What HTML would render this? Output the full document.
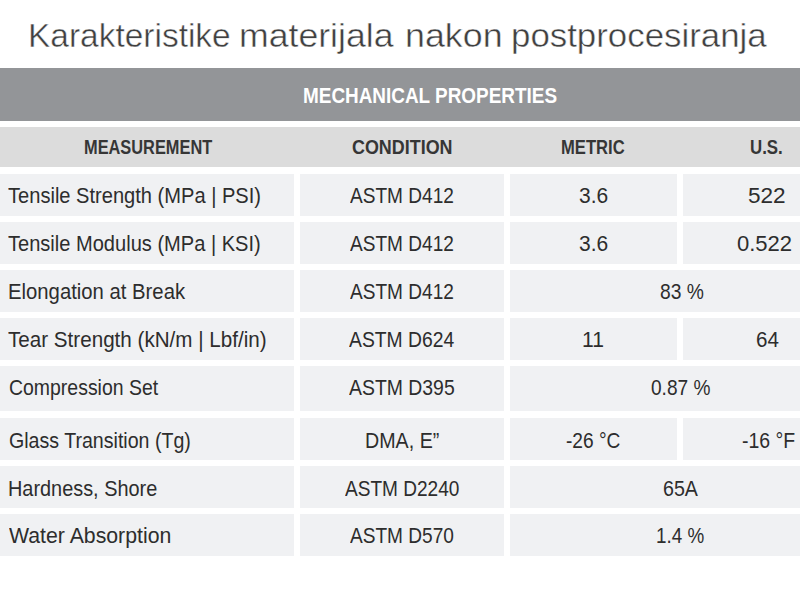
<!DOCTYPE html>
<html><head><meta charset="utf-8">
<style>
html,body{margin:0;padding:0;background:#fff;width:800px;height:600px;overflow:hidden;}
body{position:relative;font-family:"Liberation Sans",sans-serif;}
.x{position:absolute;white-space:nowrap;transform-origin:0 0;}
.band{position:absolute;left:0;top:68px;width:800px;height:53px;background:#939598;}
.sub{position:absolute;left:0;top:127px;width:800px;height:40px;background:#dcdcdc;}
.c{position:absolute;background:#f0f1f3;}
</style></head><body>
<div class="band"></div>
<div class="sub"></div>
<div class="c" style="left:0px;top:174px;width:294px;height:42px"></div>
<div class="c" style="left:300px;top:174px;width:204px;height:42px"></div>
<div class="c" style="left:510px;top:174px;width:167px;height:42px"></div>
<div class="c" style="left:683px;top:174px;width:117px;height:42px"></div>
<div class="c" style="left:0px;top:222px;width:294px;height:42px"></div>
<div class="c" style="left:300px;top:222px;width:204px;height:42px"></div>
<div class="c" style="left:510px;top:222px;width:167px;height:42px"></div>
<div class="c" style="left:683px;top:222px;width:117px;height:42px"></div>
<div class="c" style="left:0px;top:270px;width:294px;height:42px"></div>
<div class="c" style="left:300px;top:270px;width:204px;height:42px"></div>
<div class="c" style="left:510px;top:270px;width:290px;height:42px"></div>
<div class="c" style="left:0px;top:318px;width:294px;height:42px"></div>
<div class="c" style="left:300px;top:318px;width:204px;height:42px"></div>
<div class="c" style="left:510px;top:318px;width:167px;height:42px"></div>
<div class="c" style="left:683px;top:318px;width:117px;height:42px"></div>
<div class="c" style="left:0px;top:366px;width:294px;height:45px"></div>
<div class="c" style="left:300px;top:366px;width:204px;height:45px"></div>
<div class="c" style="left:510px;top:366px;width:290px;height:45px"></div>
<div class="c" style="left:0px;top:418px;width:294px;height:42px"></div>
<div class="c" style="left:300px;top:418px;width:204px;height:42px"></div>
<div class="c" style="left:510px;top:418px;width:167px;height:42px"></div>
<div class="c" style="left:683px;top:418px;width:117px;height:42px"></div>
<div class="c" style="left:0px;top:466px;width:294px;height:42px"></div>
<div class="c" style="left:300px;top:466px;width:204px;height:42px"></div>
<div class="c" style="left:510px;top:466px;width:290px;height:42px"></div>
<div class="c" style="left:0px;top:514px;width:294px;height:42px"></div>
<div class="c" style="left:300px;top:514px;width:204px;height:42px"></div>
<div class="c" style="left:510px;top:514px;width:290px;height:42px"></div>
<div class="x" style="left:27.82px;top:19.42px;font-size:33.62px;line-height:33.62px;font-weight:normal;color:#404040;transform:scaleX(0.9956);-webkit-text-stroke:0.45px #fff;">Karakteristike</div>
<div class="x" style="left:238.75px;top:19.42px;font-size:33.62px;line-height:33.62px;font-weight:normal;color:#404040;transform:scaleX(1.0605);-webkit-text-stroke:0.45px #fff;">materijala</div>
<div class="x" style="left:404.69px;top:19.42px;font-size:33.62px;line-height:33.62px;font-weight:normal;color:#404040;transform:scaleX(1.0656);-webkit-text-stroke:0.45px #fff;">nakon</div>
<div class="x" style="left:511.16px;top:19.42px;font-size:33.62px;line-height:33.62px;font-weight:normal;color:#404040;transform:scaleX(1.0367);-webkit-text-stroke:0.45px #fff;">postprocesiranja</div>
<div class="x" style="left:303.18px;top:85.48px;font-size:22.61px;line-height:22.61px;font-weight:bold;color:#ffffff;transform:scaleX(0.8368);">MECHANICAL PROPERTIES</div>
<div class="x" style="left:83.60px;top:136.90px;font-size:20.00px;line-height:20.00px;font-weight:bold;color:#363636;transform:scaleX(0.8184);">MEASUREMENT</div>
<div class="x" style="left:351.98px;top:136.80px;font-size:20.00px;line-height:20.00px;font-weight:bold;color:#363636;transform:scaleX(0.8955);">CONDITION</div>
<div class="x" style="left:561.34px;top:136.80px;font-size:20.00px;line-height:20.00px;font-weight:bold;color:#363636;transform:scaleX(0.8298);">METRIC</div>
<div class="x" style="left:749.59px;top:136.80px;font-size:20.00px;line-height:20.00px;font-weight:bold;color:#363636;transform:scaleX(0.8420);">U.S.</div>
<div class="x" style="left:7.60px;top:184.41px;font-size:22.75px;line-height:22.75px;font-weight:normal;color:#2d2d2d;transform:scaleX(0.8828);">Tensile Strength (MPa | PSI)</div>
<div class="x" style="left:350.00px;top:184.41px;font-size:22.75px;line-height:22.75px;font-weight:normal;color:#2d2d2d;transform:scaleX(0.8383);">ASTM D412</div>
<div class="x" style="left:579.16px;top:184.41px;font-size:22.75px;line-height:22.75px;font-weight:normal;color:#2d2d2d;transform:scaleX(0.9226);">3.6</div>
<div class="x" style="left:747.85px;top:184.41px;font-size:22.75px;line-height:22.75px;font-weight:normal;color:#2d2d2d;transform:scaleX(0.9916);">522</div>
<div class="x" style="left:7.85px;top:231.56px;font-size:22.75px;line-height:22.75px;font-weight:normal;color:#2d2d2d;transform:scaleX(0.8816);">Tensile Modulus (MPa | KSI)</div>
<div class="x" style="left:350.00px;top:231.56px;font-size:22.75px;line-height:22.75px;font-weight:normal;color:#2d2d2d;transform:scaleX(0.8383);">ASTM D412</div>
<div class="x" style="left:579.16px;top:231.56px;font-size:22.75px;line-height:22.75px;font-weight:normal;color:#2d2d2d;transform:scaleX(0.9226);">3.6</div>
<div class="x" style="left:736.62px;top:231.56px;font-size:22.75px;line-height:22.75px;font-weight:normal;color:#2d2d2d;transform:scaleX(0.9683);">0.522</div>
<div class="x" style="left:7.88px;top:279.91px;font-size:22.75px;line-height:22.75px;font-weight:normal;color:#2d2d2d;transform:scaleX(0.8917);">Elongation at Break</div>
<div class="x" style="left:350.00px;top:279.91px;font-size:22.75px;line-height:22.75px;font-weight:normal;color:#2d2d2d;transform:scaleX(0.8383);">ASTM D412</div>
<div class="x" style="left:659.83px;top:279.91px;font-size:22.75px;line-height:22.75px;font-weight:normal;color:#2d2d2d;transform:scaleX(0.8470);">83 %</div>
<div class="x" style="left:8.09px;top:327.56px;font-size:22.75px;line-height:22.75px;font-weight:normal;color:#2d2d2d;transform:scaleX(0.9065);">Tear Strength (kN/m | Lbf/in)</div>
<div class="x" style="left:349.20px;top:327.56px;font-size:22.75px;line-height:22.75px;font-weight:normal;color:#2d2d2d;transform:scaleX(0.8498);">ASTM D624</div>
<div class="x" style="left:582.31px;top:327.56px;font-size:22.75px;line-height:22.75px;font-weight:normal;color:#2d2d2d;transform:scaleX(0.9273);">11</div>
<div class="x" style="left:755.77px;top:327.56px;font-size:22.75px;line-height:22.75px;font-weight:normal;color:#2d2d2d;transform:scaleX(0.9046);">64</div>
<div class="x" style="left:8.53px;top:375.76px;font-size:22.75px;line-height:22.75px;font-weight:normal;color:#2d2d2d;transform:scaleX(0.8547);">Compression Set</div>
<div class="x" style="left:349.20px;top:375.76px;font-size:22.75px;line-height:22.75px;font-weight:normal;color:#2d2d2d;transform:scaleX(0.8529);">ASTM D395</div>
<div class="x" style="left:651.24px;top:375.76px;font-size:22.75px;line-height:22.75px;font-weight:normal;color:#2d2d2d;transform:scaleX(0.8385);">0.87 %</div>
<div class="x" style="left:8.52px;top:429.16px;font-size:22.75px;line-height:22.75px;font-weight:normal;color:#2d2d2d;transform:scaleX(0.8615);">Glass Transition (Tg)</div>
<div class="x" style="left:365.23px;top:429.16px;font-size:22.75px;line-height:22.75px;font-weight:normal;color:#2d2d2d;transform:scaleX(0.8646);">DMA, E”</div>
<div class="x" style="left:566.43px;top:429.16px;font-size:22.75px;line-height:22.75px;font-weight:normal;color:#2d2d2d;transform:scaleX(0.8408);">-26 °C</div>
<div class="x" style="left:741.62px;top:429.16px;font-size:22.75px;line-height:22.75px;font-weight:normal;color:#2d2d2d;transform:scaleX(0.8558);">-16 °F</div>
<div class="x" style="left:7.91px;top:477.16px;font-size:22.75px;line-height:22.75px;font-weight:normal;color:#2d2d2d;transform:scaleX(0.8739);">Hardness, Shore</div>
<div class="x" style="left:345.20px;top:477.16px;font-size:22.75px;line-height:22.75px;font-weight:normal;color:#2d2d2d;transform:scaleX(0.8377);">ASTM D2240</div>
<div class="x" style="left:663.02px;top:477.16px;font-size:22.75px;line-height:22.75px;font-weight:normal;color:#2d2d2d;transform:scaleX(0.8637);">65A</div>
<div class="x" style="left:8.54px;top:523.66px;font-size:22.75px;line-height:22.75px;font-weight:normal;color:#2d2d2d;transform:scaleX(0.9345);">Water Absorption</div>
<div class="x" style="left:350.00px;top:523.66px;font-size:22.75px;line-height:22.75px;font-weight:normal;color:#2d2d2d;transform:scaleX(0.8384);">ASTM D570</div>
<div class="x" style="left:656.49px;top:523.66px;font-size:22.75px;line-height:22.75px;font-weight:normal;color:#2d2d2d;transform:scaleX(0.8285);">1.4 %</div>
</body></html>
